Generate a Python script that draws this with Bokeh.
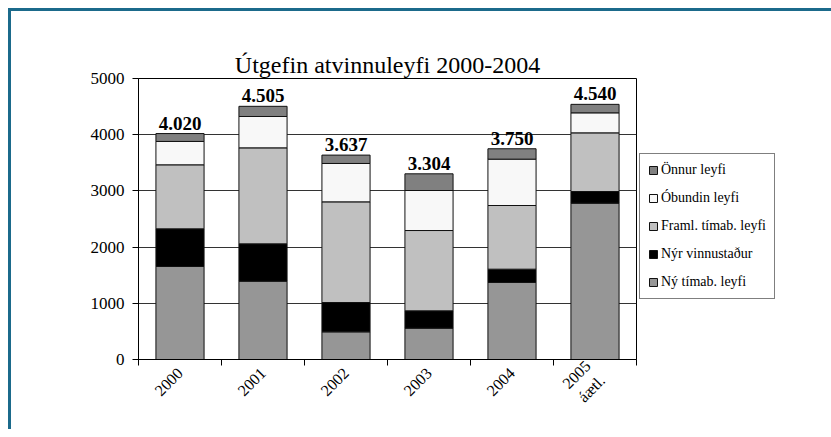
from bokeh.plotting import figure
from bokeh.models import (ColumnDataSource, FixedTicker, Legend, LegendItem, Range1d)
from bokeh.core.properties import value
from bokeh.embed import file_html
from bokeh.resources import INLINE

# ---- data ----
years = ["2000", "2001", "2002", "2003", "2004", "2005"]
year_labels = ["2000", "2001", "2002", "2003", "2004", "2005\náætl."]
series = ["Ný tímab. leyfi", "Nýr vinnustaður", "Framl. tímab. leyfi", "Óbundin leyfi", "Önnur leyfi"]
ny_timab = [1655, 1394, 492, 558, 1370, 2782]
nyr_vinnustadur = [670, 664, 522, 308, 237, 207]
framl_timab = [1139, 1708, 1791, 1429, 1133, 1044]
obundin = [416, 558, 683, 712, 825, 356]
onnur = [140, 181, 149, 297, 185, 151]
totals = [4020, 4505, 3637, 3304, 3750, 4540]
y_ticks = [0, 1000, 2000, 3000, 4000, 5000]

colors = ["#969696", "#000000", "#c0c0c0", "#f8f8f8", "#808080"]
FONT = "'Liberation Serif', serif"

xpos = [i + 0.5 for i in range(len(years))]
keys = ["s0", "s1", "s2", "s3", "s4"]
src = ColumnDataSource(dict(x=xpos, s0=ny_timab, s1=nyr_vinnustadur, s2=framl_timab,
                            s3=obundin, s4=onnur, total=totals,
                            lab=[f"{t:,}".replace(",", ".") for t in totals]))

p = figure(frame_width=498, frame_height=281, output_backend="svg", toolbar_location=None,
           x_range=Range1d(0, len(years)), y_range=Range1d(0, 5000),
           min_border_left=127, min_border_top=67, min_border_right=187, min_border_bottom=70)
p.styles = {"border-top": "3px solid #1b6a8b", "border-left": "3px solid #1b6a8b",
            "margin-left": "8px", "margin-top": "8px"}

p.title.text = "Útgefin atvinnuleyfi 2000-2004"
p.title.align = "center"
p.title.text_font = FONT
p.title.text_font_size = "24px"
p.title.text_font_style = "normal"
p.title.text_color = "black"
p.title.standoff = 2

renderers = p.vbar_stack(keys, x="x", width=0.58, source=src, fill_color=colors,
                         line_color="#111111", line_width=1)

p.text(x="x", y="total", text="lab", source=src, text_align="center", text_baseline="bottom",
       y_offset=-4, text_font=value(FONT), text_font_size="19px", text_font_style="bold",
       text_color="black")

# axes
p.xaxis.ticker = FixedTicker(ticks=xpos, minor_ticks=list(range(len(years) + 1)))
p.xaxis.major_label_overrides = {x: lab for x, lab in zip(xpos, year_labels)}
p.xaxis.major_tick_out = 0
p.xaxis.major_tick_in = 0
p.xaxis.minor_tick_out = 6
p.xaxis.minor_tick_in = 0
p.xaxis.minor_tick_line_color = "black"
p.xaxis.major_label_orientation = 0.785
p.xaxis.major_label_text_font = FONT
p.xaxis.major_label_text_font_size = "16px"
p.xaxis.major_label_text_color = "black"
p.xaxis.axis_line_color = "black"

p.yaxis.ticker = FixedTicker(ticks=y_ticks)
p.yaxis.minor_tick_line_color = None
p.yaxis.major_tick_out = 6
p.yaxis.major_tick_in = 0
p.yaxis.major_tick_line_color = "black"
p.yaxis.major_label_text_font = FONT
p.yaxis.major_label_text_font_size = "17px"
p.yaxis.major_label_text_color = "black"
p.yaxis.axis_line_color = "black"
p.yaxis.major_label_standoff = 8

p.xgrid.grid_line_color = None
p.ygrid.grid_line_color = "#333333"
p.ygrid.grid_line_width = 1
p.outline_line_color = "black"
p.outline_line_alpha = 1

items = [LegendItem(label=series[i], renderers=[renderers[i]]) for i in range(len(series) - 1, -1, -1)]
legend = Legend(items=items, location=(3, 60), orientation="vertical")
legend.label_text_font = FONT
legend.label_text_font_size = "14px"
legend.label_text_color = "black"
legend.glyph_width = 10
legend.glyph_height = 10
legend.label_height = 12
legend.label_standoff = 3
legend.spacing = 12
legend.padding = 8
legend.margin = 0
legend.border_line_color = "black"
legend.border_line_width = 1
legend.background_fill_alpha = 1
p.add_layout(legend, "right")

open("out.html", "w").write(file_html(p, INLINE))
